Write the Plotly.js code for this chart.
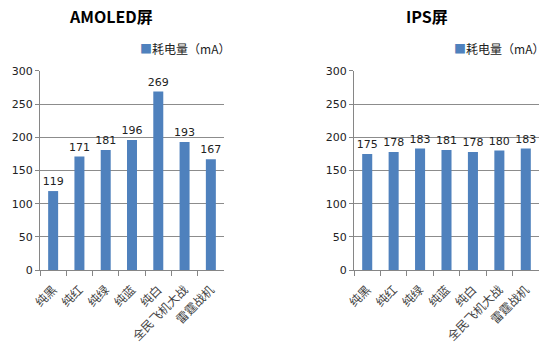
<!DOCTYPE html>
<html><head><meta charset="utf-8">
<script src="https://cdn.plot.ly/plotly-3.0.1.min.js"></script>
<style>html,body{margin:0;padding:0;background:#fff}</style>
</head><body>
<div id="chart" style="width:554px;height:360px"></div>
<script>
const categories = ['纯黑','纯红','纯绿','纯蓝','纯白','全民飞机大战','雷霆战机'];
const amoledValues = [119,171,181,196,269,193,167];
const ipsValues = [175,178,183,181,178,180,183];
const seriesName = '耗电量（mA）';
const titles = ['AMOLED屏','IPS屏'];
const yTicks = [0,50,100,150,200,250,300];

const barColor = '#4F81BD';
const numFont = {family:'DejaVu Sans, Verdana, sans-serif', size:11, color:'#222'};
const catFont = {family:'Noto Sans CJK SC, sans-serif', size:12, color:'#444'};

function bar(vals, xa, ya){
  return {type:'bar', x:categories, y:vals, name:seriesName, xaxis:xa, yaxis:ya,
    marker:{color:barColor}, text:vals.map(String), textposition:'outside', constraintext:'none',
    textfont:numFont, cliponaxis:false, showlegend:false};
}
const xax = d => ({domain:d, type:'category', showgrid:false, showline:true, linecolor:'#868686', linewidth:1,
  ticks:'outside', tickson:'boundaries', ticklen:5, tickcolor:'#868686', tickangle:-45, tickfont:catFont,
  ticklabelstandoff:7, fixedrange:true});
const yax = (anchor) => ({domain:[0.25,0.8028], range:[0,300], tickvals:yTicks, showgrid:true, gridcolor:'#8c8c8c',
  showline:true, linecolor:'#868686', ticks:'outside', ticklen:4, tickcolor:'#868686', zeroline:false,
  tickfont:numFont, anchor:anchor});
const legendText = '<span style="color:'+barColor+'">■</span>'+seriesName;
const legendFont = {family:'Noto Sans CJK SC, sans-serif', size:12, color:'#222'};
const titleFont = {family:'Noto Sans CJK SC, sans-serif', size:16, color:'#000'};

const data = [bar(amoledValues,'x','y'), bar(ipsValues,'x2','y2')];
const layout = {
  width:554, height:360, margin:{l:0,r:0,t:0,b:0}, paper_bgcolor:'#fff', plot_bgcolor:'#fff',
  bargap:0.62,
  xaxis:Object.assign(xax([40/554,224/554]),{anchor:'y'}),
  yaxis:yax('x'),
  xaxis2:Object.assign(xax([354/554,539/554]),{anchor:'y2'}),
  yaxis2:yax('x2'),
  annotations:[
    {text:'<b>'+titles[0]+'</b>', x:111/554, y:1-16/360, xref:'paper', yref:'paper', showarrow:false,
     xanchor:'center', yanchor:'middle', font:titleFont},
    {text:'<b>'+titles[1]+'</b>', x:427/554, y:1-16/360, xref:'paper', yref:'paper', showarrow:false,
     xanchor:'center', yanchor:'middle', font:titleFont},
    {text:legendText, x:138/554, y:1-49/360, xref:'paper', yref:'paper', showarrow:false,
     xanchor:'left', yanchor:'middle', font:legendFont},
    {text:legendText, x:452/554, y:1-49/360, xref:'paper', yref:'paper', showarrow:false,
     xanchor:'left', yanchor:'middle', font:legendFont}
  ]
};
Plotly.newPlot('chart', data, layout, {displayModeBar:false, staticPlot:true});
</script>
</body></html>
